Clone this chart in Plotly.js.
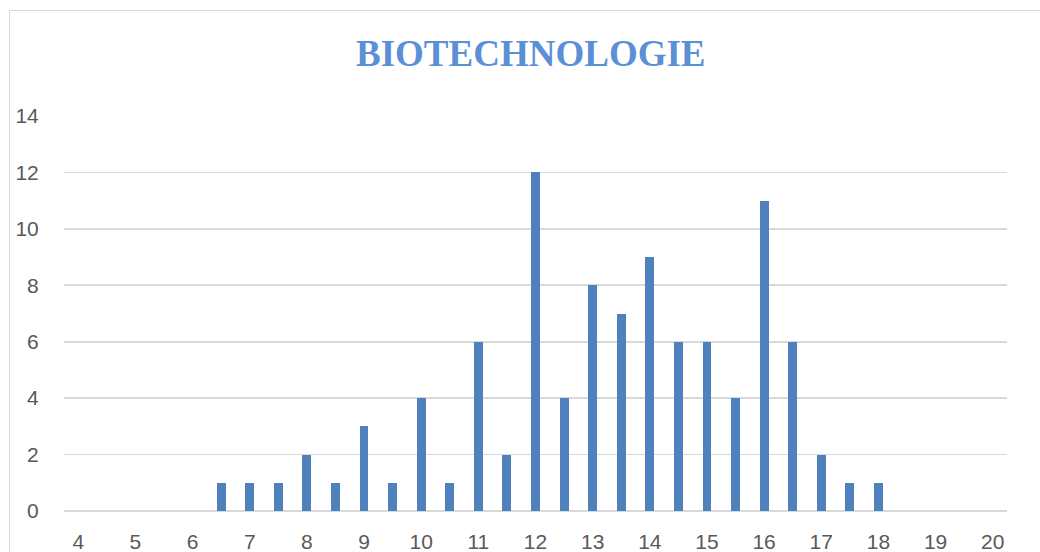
<!DOCTYPE html>
<html>
<head>
<meta charset="utf-8">
<script src="https://cdn.plot.ly/plotly-3.0.1.min.js"></script>
<style>
  html, body { margin: 0; padding: 0; width: 1040px; height: 552px; overflow: hidden; background: #ffffff; }
  #frame { position: absolute; left: 9px; top: 10px; width: 1100px; height: 600px; border: 1.5px solid #d9d9d9; box-sizing: border-box; }
  #chart { position: absolute; left: 0; top: 0; width: 1040px; height: 552px; }
</style>
</head>
<body>
<div id="frame"></div>
<div id="chart"></div>
<script>
// Grades (x categories, half-point steps) and number of students per grade
const grades = [4, 4.5, 5, 5.5, 6, 6.5, 7, 7.5, 8, 8.5, 9, 9.5, 10, 10.5, 11, 11.5,
                12, 12.5, 13, 13.5, 14, 14.5, 15, 15.5, 16, 16.5, 17, 17.5, 18, 18.5, 19, 19.5, 20];
const counts = [0, 0, 0, 0, 0, 1, 1, 1, 2, 1, 3, 1, 4, 1, 6, 2,
                12, 4, 8, 7, 9, 6, 6, 4, 11, 6, 2, 1, 1, 0, 0, 0, 0];
const xTickValues = [4, 5, 6, 7, 8, 9, 10, 11, 12, 13, 14, 15, 16, 17, 18, 19, 20];
const xTickLabels = ["4", "5", "6", "7", "8", "9", "10", "11", "12", "13", "14", "15", "16", "17", "18", "19", "20"];
const yTickValues = [0, 2, 4, 6, 8, 10, 12, 14];
const chartTitle = "BIOTECHNOLOGIE";

const trace = {
  type: "bar",
  x: grades,
  y: counts,
  width: 0.155,
  marker: { color: "#4f81bd", line: { width: 0 } },
  hoverinfo: "x+y"
};

const layout = {
  width: 1040,
  height: 552,
  paper_bgcolor: "rgba(0,0,0,0)",
  plot_bgcolor: "rgba(0,0,0,0)",
  margin: { l: 64, r: 33, t: 116, b: 41, pad: 0 },
  showlegend: false,
  bargap: 0,
  title: {
    text: "<b>" + chartTitle + "</b>",
    font: { family: "Liberation Serif, Times New Roman, serif", size: 37, color: "#5b8fd6" },
    xref: "paper",
    x: 0.495,
    xanchor: "center",
    yref: "container",
    y: 0.903,
    yanchor: "middle"
  },
  xaxis: {
    type: "linear",
    range: [3.75, 20.25],
    tickmode: "array",
    tickvals: xTickValues,
    ticktext: xTickLabels,
    showgrid: false,
    zeroline: false,
    showline: false,
    ticks: "outside",
    ticklen: 12,
    tickcolor: "rgba(0,0,0,0)",
    tickfont: { family: "Liberation Sans, Arial, sans-serif", size: 21, color: "#595959" },
    fixedrange: true
  },
  yaxis: {
    range: [0, 14],
    tickmode: "array",
    tickvals: yTickValues,
    showgrid: true,
    gridcolor: "#d9d9d9",
    gridwidth: 1.6,
    zeroline: true,
    zerolinecolor: "#d9d9d9",
    zerolinewidth: 1.6,
    showline: false,
    ticks: "outside",
    ticklen: 20,
    tickcolor: "rgba(0,0,0,0)",
    tickfont: { family: "Liberation Sans, Arial, sans-serif", size: 21, color: "#595959" },
    fixedrange: true
  }
};

Plotly.newPlot("chart", [trace], layout, { displayModeBar: false, staticPlot: true });
</script>
</body>
</html>
